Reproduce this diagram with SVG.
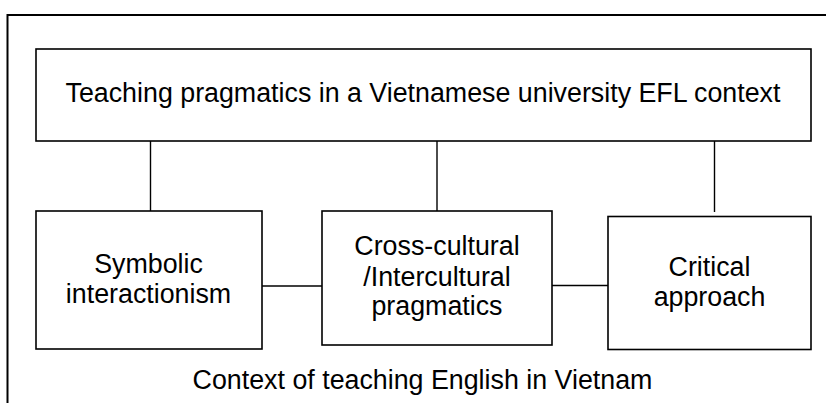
<svg xmlns="http://www.w3.org/2000/svg" width="826" height="403" viewBox="0 0 826 403">
<style>
.frame{fill:none;stroke:#000;stroke-width:2}
.box{fill:#fff;stroke:#000;stroke-width:1.6}
.conn{fill:none;stroke:#000;stroke-width:1.4}
text{font-family:"Liberation Sans",Arial,sans-serif;font-size:26.8px;fill:#000;text-anchor:middle}
</style>
<rect width="826" height="403" fill="#fff"/>
<g id="frame">
<path class="frame" d="M7.5,403 V15 H826"/>
<text x="422.5" y="389">Context of teaching English in Vietnam</text>
</g>
<g id="connectors">
<line class="conn" x1="150.5" y1="141" x2="150.5" y2="211"/>
<line class="conn" x1="437" y1="141" x2="437" y2="211"/>
<line class="conn" x1="714.5" y1="141" x2="714.5" y2="212"/>
<line class="conn" x1="262" y1="286" x2="322" y2="286"/>
<line class="conn" x1="552" y1="285.5" x2="608" y2="285.5"/>
</g>
<g id="top">
<rect class="box" x="36" y="49" width="775" height="92"/>
<text x="423" y="102">Teaching pragmatics in a Vietnamese university EFL context</text>
</g>
<g id="symbolic">
<rect class="box" x="36" y="211" width="226" height="138"/>
<text x="148.5" y="273">Symbolic</text>
<text x="148.5" y="303">interactionism</text>
</g>
<g id="crosscultural">
<rect class="box" x="322" y="211" width="230" height="134"/>
<text x="437" y="255">Cross-cultural</text>
<text x="437" y="286">/Intercultural</text>
<text x="437" y="315">pragmatics</text>
</g>
<g id="critical">
<rect class="box" x="608" y="216.5" width="203" height="133"/>
<text x="709.5" y="276">Critical</text>
<text x="709.5" y="306">approach</text>
</g>
</svg>
